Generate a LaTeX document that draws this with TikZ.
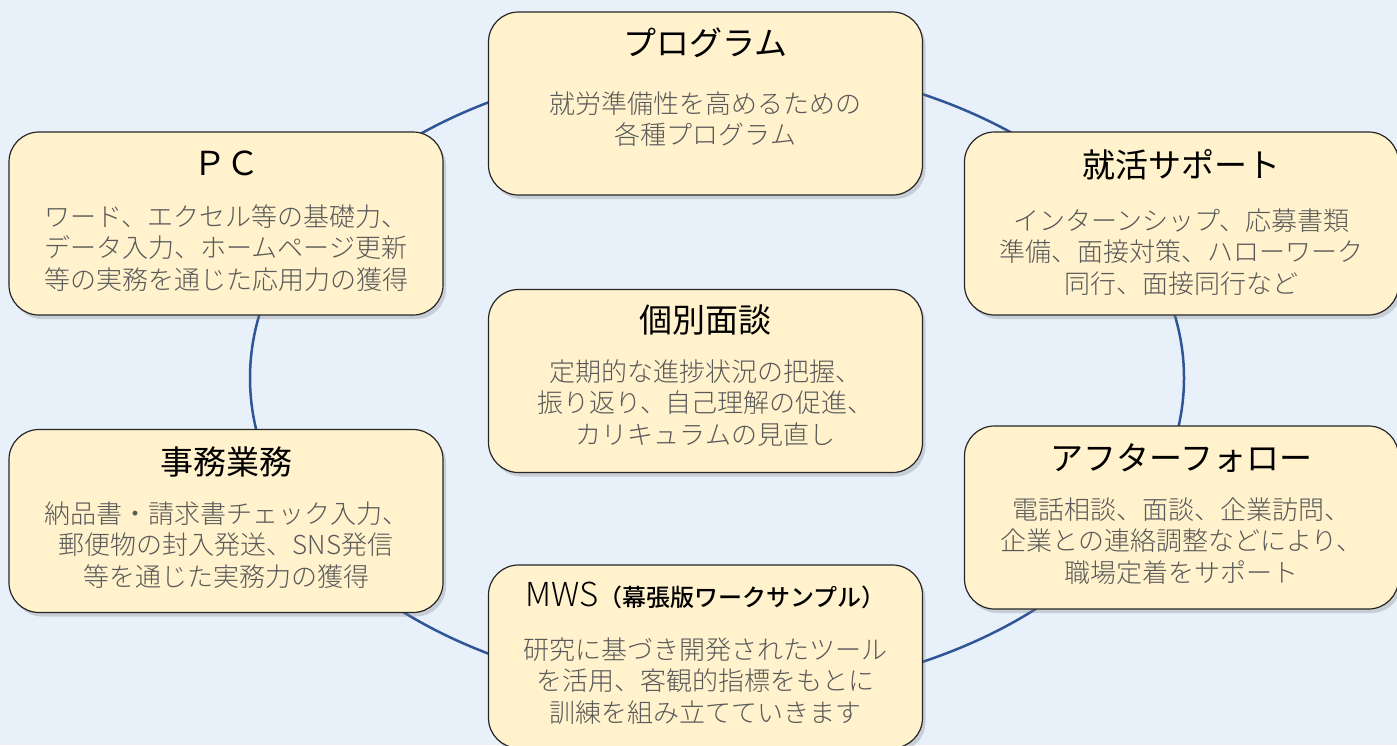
\documentclass[tikz,border=0pt]{standalone}
\usepackage{fontspec}
\setmainfont{Noto Sans CJK JP}
\newfontfamily\lightfont{Noto Sans CJK JP Light}
\newfontfamily\mediumfont{Noto Sans CJK JP Medium}
\usetikzlibrary{shadows}
\definecolor{bg}{HTML}{E8F1FA}
\definecolor{boxfill}{HTML}{FFF2CC}
\definecolor{ringblue}{HTML}{2F5597}
\definecolor{bodygray}{HTML}{595959}
\begin{document}
\begin{tikzpicture}[x=1pt,y=-1pt,
  card/.style={draw=black!85, line width=1.2pt, fill=boxfill, rounded corners=30pt,
    minimum width=434pt, minimum height=183pt, inner sep=0pt,
    drop shadow={shadow xshift=3pt, shadow yshift=-4pt, opacity=0.3}},
  ttl/.style={font=\fontsize{33}{38}\selectfont, text=black, inner sep=0pt},
  bodytext/.style={font=\lightfont\fontsize{26}{31.5}\selectfont, text=bodygray, align=center, inner sep=0pt},
]
\useasboundingbox (0,0) rectangle (1397,745);
\fill[bg] (0,0) rectangle (1397,745);
\draw[ringblue, line width=2.5pt] (717,378) ellipse [x radius=467pt, y radius=316pt];

% Program
\node[card] (prog) at (705.5,103.5) {};
\node[ttl] (progT) at (705.5,43) {プログラム};
\node[bodytext] (progB) at (705.5,119) {就労準備性を高めるための\\各種プログラム};

% PC
\node[card] (pc) at (226,223.5) {};
\node[ttl] (pcT) at (226,163) {ＰＣ};
\node[bodytext] (pcB) at (226,248) {ワード、エクセル等の基礎力、\\データ入力、ホームページ更新\\等の実務を通じた応用力の獲得};

% Job support
\node[card] (job) at (1181.5,223.5) {};
\node[ttl] (jobT) at (1181.5,165) {就活サポート};
\node[bodytext] (jobB) at (1181.5,252) {インターンシップ、応募書類\\準備、面接対策、ハローワーク\\同行、面接同行など};

% Interview
\node[card] (iv) at (705.5,381) {};
\node[ttl] (ivT) at (705.5,320) {個別面談};
\node[bodytext] (ivB) at (705.5,403) {定期的な進捗状況の把握、\\振り返り、自己理解の促進、\\カリキュラムの見直し};

% Office work
\node[card] (office) at (226,521) {};
\node[ttl] (officeT) at (226,462) {事務業務};
\node[bodytext] (officeB) at (226,545) {納品書・請求書チェック入力、\\郵便物の封入発送、SNS発信\\等を通じた実務力の獲得};

% After follow
\node[card] (after) at (1181.5,517.5) {};
\node[ttl] (afterT) at (1181.5,458) {アフターフォロー};
\node[bodytext] (afterB) at (1181.5,541) {電話相談、面談、企業訪問、\\企業との連絡調整などにより、\\職場定着をサポート};

% MWS
\node[card] (mws) at (705.5,656.5) {};
\node[ttl] (mwsT) at (705.5,595) {{\lightfont MWS}{\mediumfont\fontsize{24}{28}\selectfont （幕張版ワークサンプル）}};
\node[bodytext] (mwsB) at (705.5,681) {研究に基づき開発されたツール\\を活用、客観的指標をもとに\\訓練を組み立てていきます};
\end{tikzpicture}
\end{document}
